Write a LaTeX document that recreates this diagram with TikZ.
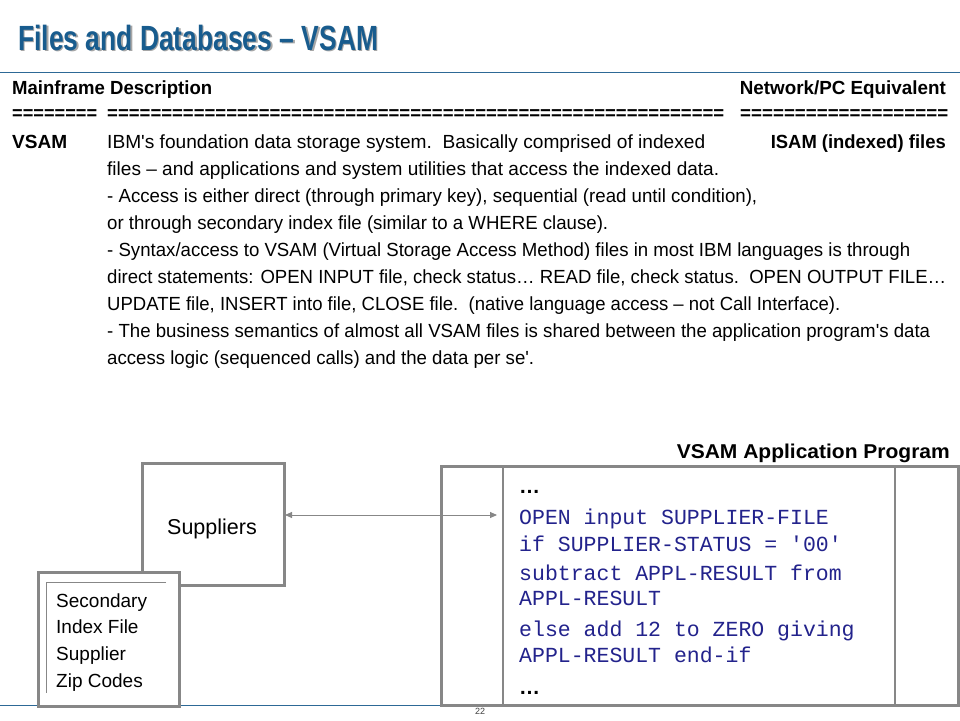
\documentclass[tikz,border=0pt]{standalone}
\usepackage{fontspec}
\usepackage{graphicx}
\setmainfont{Liberation Sans}[Ligatures=TeXOff]
\newfontfamily\codefont{Liberation Mono}[Ligatures=TeXOff]
\usetikzlibrary{arrows.meta}
\definecolor{titleblue}{RGB}{24,92,142}
\definecolor{lineblue}{RGB}{45,105,150}
\definecolor{boxgray}{RGB}{135,135,135}
\definecolor{codeblue}{RGB}{35,35,140}
\newcommand{\fitw}[2]{\resizebox{#1pt}{\height}{#2}}
\tikzset{
  body/.style={inner sep=0pt, anchor=base west, font=\fontsize{19}{22}\selectfont},
  bodyb/.style={inner sep=0pt, anchor=base west, font=\fontsize{19}{22}\selectfont\bfseries},
  bodyr/.style={inner sep=0pt, anchor=base east, font=\fontsize{19}{22}\selectfont\bfseries},
  code/.style={inner sep=0pt, anchor=base west, text=codeblue, font=\fontsize{21.5}{24}\codefont},
  sec/.style={inner sep=0pt, anchor=base west, font=\fontsize{19}{22}\selectfont},
  gbox/.style={draw=boxgray, line width=2.5pt, fill=white},
  gshadow/.style={fill=black!18, draw=none},
  thin/.style={draw=boxgray, line width=0.8pt}
}
\begin{document}
\begin{tikzpicture}[x=1pt,y=-1pt]
\useasboundingbox (0,0) rectangle (960,720);
% title
\node[inner sep=0pt, anchor=base west, text=black!35, font=\fontsize{35}{38}\selectfont\bfseries] at (19.5,51.5) {\fitw{360}{Files and Databases – VSAM}};
\node[inner sep=0pt, anchor=base west, text=titleblue, font=\fontsize{35}{38}\selectfont\bfseries] (title) at (18,50) {\fitw{360}{Files and Databases – VSAM}};
\draw[lineblue, line width=1pt] (0,72) -- (960,72);
% header
\node[bodyb] (hmain) at (12,94) {\fitw{200}{Mainframe Description}};
\node[bodyr] (hnet) at (946,94) {\fitw{206}{Network/PC Equivalent}};
\node[bodyb] (eq1) at (12,119) {\fitw{85}{========}};
\node[bodyb] (eq2) at (107,119) {\fitw{617}{=========================================================}};
\node[bodyb] (eq3) at (740,119) {\fitw{208}{===================}};
% body
\node[bodyb] (vsam) at (12,148) {\fitw{55}{VSAM}};
\node[body] (l1) at (107,148) {\fitw{598}{IBM's foundation data storage system.\ \ Basically comprised of indexed}};
\node[bodyr] (isam) at (946,148) {\fitw{175}{ISAM (indexed) files}};
\node[body] (l2) at (107,175) {\fitw{612}{files – and applications and system utilities that access the indexed data.}};
\node[body] (l3) at (107,202) {\fitw{650}{- Access is either direct (through primary key), sequential (read until condition),}};
\node[body] (l4) at (107,229) {\fitw{501}{or through secondary index file (similar to a WHERE clause).}};
\node[body] (l5) at (107,256) {\fitw{803}{- Syntax/access to VSAM (Virtual Storage Access Method) files in most IBM languages is through}};
\node[body] (l6) at (107,283) {\fitw{839}{direct statements: OPEN INPUT file, check status… READ file, check status.\ \ OPEN OUTPUT FILE…}};
\node[body] (l7) at (107,310) {\fitw{733}{UPDATE file, INSERT into file, CLOSE file.\ \ (native language access – not Call Interface).}};
\node[body] (l8) at (107,337) {\fitw{823}{- The business semantics of almost all VSAM files is shared between the application program's data}};
\node[body] (l9) at (107,364) {\fitw{427}{access logic (sequenced calls) and the data per se'.}};
% bottom rule and page number
\draw[lineblue, line width=0.8pt] (0,705) -- (960,705);
\node[inner sep=0pt, text=black!75, font=\fontsize{9}{10}\selectfont] (pnum) at (480,711) {22};
% program label
\node[bodyr, font=\fontsize{20}{23}\selectfont\bfseries] (plabel) at (950,458) {\fitw{273}{VSAM Application Program}};
% suppliers box
\fill[gshadow] (144,465) rectangle (286,587);
\node[gbox, minimum width=142pt, minimum height=122pt, inner sep=0pt, anchor=north west] (sup) at (141,462) {};
\node[inner sep=0pt, anchor=base, font=\fontsize{21.5}{24}\selectfont] (suptext) at (212,534) {Suppliers};
% secondary index box
\fill[gshadow] (40,574) rectangle (181,708);
\node[gbox, minimum width=141pt, minimum height=134pt, inner sep=0pt, anchor=north west] (secbox) at (37,571) {};
\draw[thin] (166,582) -- (46,582) -- (46,693);
\node[sec] (s1) at (56,607) {Secondary};
\node[sec] (s2) at (56,633) {Index File};
\node[sec] (s3) at (56,660) {Supplier};
\node[sec] (s4) at (56,687) {Zip Codes};
% program box
\fill[gshadow] (443,468) rectangle (960,707);
\node[gbox, minimum width=517pt, minimum height=239pt, inner sep=0pt, anchor=north west] (prog) at (440,465) {};
\draw[boxgray, line width=2.5pt] (503,465) -- (503,704);
\draw[boxgray, line width=2.5pt] (895,465) -- (895,704);
\node[inner sep=0pt, anchor=base west, font=\fontsize{21}{24}\selectfont\bfseries] (d1) at (519,493) {…};
\node[code] (c1) at (519,524) {OPEN input SUPPLIER-FILE};
\node[code] (c2) at (519,551) {if SUPPLIER-STATUS = '00'};
\node[code] (c3) at (519,580) {subtract APPL-RESULT from};
\node[code] (c4) at (519,605) {APPL-RESULT};
\node[code] (c5) at (519,636) {else add 12 to ZERO giving};
\node[code] (c6) at (519,662) {APPL-RESULT end-if};
\node[inner sep=0pt, anchor=base west, font=\fontsize{21}{24}\selectfont\bfseries] (d2) at (519,694) {…};
% arrow
\coordinate (aL) at (285,515);
\coordinate (aR) at (497,515);
\draw[boxgray, line width=0.9pt, {Triangle[length=7pt,width=6pt]}-{Triangle[length=7pt,width=6pt]}] (aL) -- (aR);
\end{tikzpicture}
\end{document}
